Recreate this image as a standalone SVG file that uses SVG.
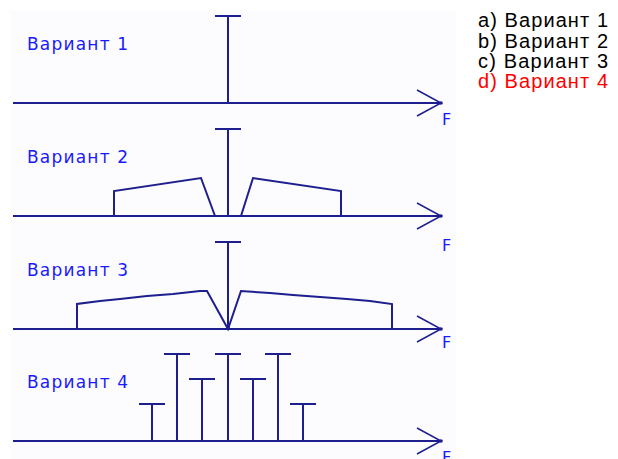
<svg xmlns="http://www.w3.org/2000/svg" width="618" height="459" viewBox="0 0 618 459">
<style>
.ln{stroke:#1e1e8e;stroke-width:2;fill:none;stroke-linecap:butt}
.ar{stroke:#1e1e8e;stroke-width:1.5;fill:none}
.lbl{font-family:"DejaVu Sans",Verdana,sans-serif;font-size:17px;fill:#1a1aff;letter-spacing:1.2px}
.f{font-family:"DejaVu Sans",Verdana,sans-serif;font-size:16px;fill:#1a1aff}
.lg{font-family:"Liberation Sans",Arial,sans-serif;font-size:20px;fill:#000}
</style>
<rect x="0" y="0" width="618" height="459" fill="#ffffff"/>
<rect x="10" y="10" width="446" height="449" fill="#fcfcff"/>
<g id="panel1">
<text class="lbl" x="27" y="50">Вариант 1</text>
<line class="ln" x1="13" y1="103" x2="441" y2="103"/>
<polyline class="ar" points="417,90 441,103 417,116"/>
<circle cx="441" cy="103" r="1.8" fill="#1e1e8e"/>
<text class="f" x="442" y="125">F</text>
<line class="ln" x1="228" y1="16" x2="228" y2="103"/>
<line class="ln" x1="215" y1="16" x2="241" y2="16"/>
</g>
<g id="panel2">
<text class="lbl" x="27" y="163">Вариант 2</text>
<line class="ln" x1="13" y1="216" x2="441" y2="216"/>
<polyline class="ar" points="417,203 441,216 417,229"/>
<circle cx="441" cy="216" r="1.8" fill="#1e1e8e"/>
<text class="f" x="442" y="251">F</text>
<line class="ln" x1="228" y1="129" x2="228" y2="216"/>
<line class="ln" x1="215" y1="129" x2="241" y2="129"/>
<polyline class="ln" points="114,216 114,191 201,178 215,216"/>
<polyline class="ln" points="241,216 253,178 341,191 341,216"/>
</g>
<g id="panel3">
<text class="lbl" x="27" y="276">Вариант 3</text>
<line class="ln" x1="13" y1="329" x2="441" y2="329"/>
<polyline class="ar" points="417,316 441,329 417,342"/>
<circle cx="441" cy="329" r="1.8" fill="#1e1e8e"/>
<text class="f" x="442" y="348">F</text>
<line class="ln" x1="228" y1="242" x2="228" y2="329"/>
<line class="ln" x1="215" y1="242" x2="241" y2="242"/>
<polyline class="ln" points="77,329 77,304 100,301 120,299 147,296 173,294 200,291 207,291 228,329 241,291 270,293 293,295 320,297 347,299 370,301 392,304 392,329"/>
<circle cx="228" cy="328" r="2" fill="#1e1e8e"/>
</g>
<g id="panel4">
<text class="lbl" x="27" y="388">Вариант 4</text>
<line class="ln" x1="13" y1="441" x2="441" y2="441"/>
<polyline class="ar" points="417,428 441,441 417,454"/>
<circle cx="441" cy="441" r="1.8" fill="#1e1e8e"/>
<text class="f" x="442" y="463">F</text>
<path class="ln" d="M152,441V404M139,404H165M177,441V354M164,354H190M202,441V379M189,379H215M228,441V354M215,354H241M253,441V379M240,379H266M278,441V354M265,354H291M303,441V404M290,404H316"/>
</g>
<g id="legend">
<text class="lg" x="478" y="27" textLength="130">a) Вариант 1</text>
<text class="lg" x="478" y="48" textLength="130">b) Вариант 2</text>
<text class="lg" x="478" y="68" textLength="130">c) Вариант 3</text>
<text class="lg" x="478" y="88" textLength="130" style="fill:#ff0000">d) Вариант 4</text>
</g>
</svg>
